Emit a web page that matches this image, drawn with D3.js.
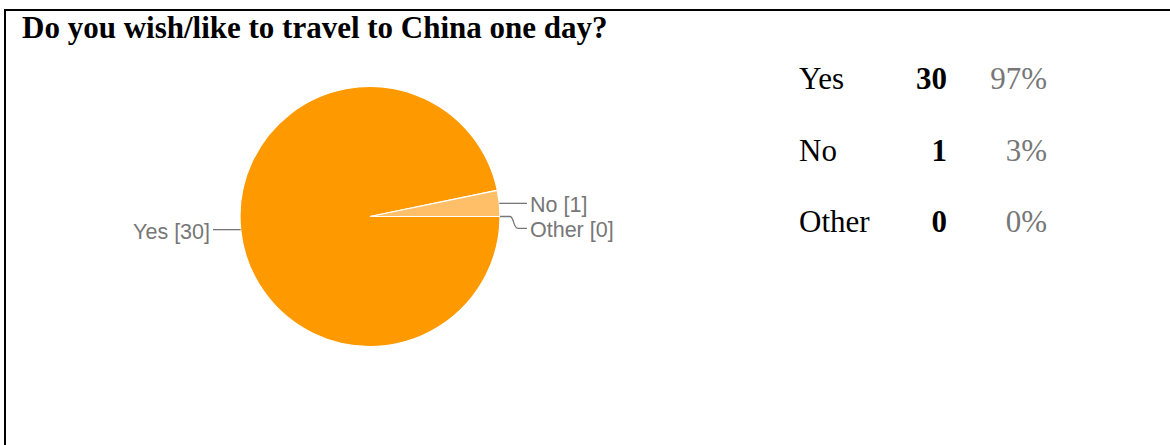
<!DOCTYPE html>
<html><head><meta charset="utf-8">
<script src="https://cdn.jsdelivr.net/npm/d3@7"></script>
<style>
html,body{margin:0;padding:0;background:#fff;}
svg{display:block;}
</style>
</head><body>
<svg id="chart" width="1170" height="445"></svg>
<script>
const title = "Do you wish/like to travel to China one day?";
const categories = ["Yes", "No", "Other"];
const counts = [30, 1, 0];
const percents = ["97%", "3%", "0%"];
const colors = ["#ff9900", "#ffbf69", "#ffd9a6"];

const svg = d3.select("#chart");
const W = 1170, H = 445;

// frame
svg.append("line").attr("x1", 4).attr("x2", W).attr("y1", 10).attr("y2", 10)
  .attr("stroke", "#000").attr("stroke-width", 2);
svg.append("line").attr("x1", 5).attr("x2", 5).attr("y1", 9).attr("y2", H)
  .attr("stroke", "#000").attr("stroke-width", 2);

svg.append("text").attr("x", 22).attr("y", 38)
  .attr("font-family", "'Liberation Serif','Times New Roman',serif")
  .attr("font-weight", "bold").attr("font-size", 31).attr("fill", "#000")
  .text(title);

// pie
const cx = 370, cy = 216.5, R = 130;
const data = categories.map((c, i) => ({cat: c, value: counts[i], color: colors[i]}));
const pie = d3.pie().value(d => d.value).sort(null)
  .startAngle(Math.PI / 2).endAngle(Math.PI / 2 + 2 * Math.PI);
const arcs = pie(data);
const arc = d3.arc().innerRadius(0).outerRadius(R);
const g = svg.append("g").attr("transform", `translate(${cx},${cy})`);
g.selectAll("path.slice").data(arcs).enter().append("path")
  .attr("class", "slice")
  .attr("d", arc).attr("fill", d => d.data.color)
  .attr("stroke", "#fff").attr("stroke-width", 1.2);

// labels
const labelFont = "'Liberation Sans',Arial,sans-serif";
let prevRightY = -Infinity;
arcs.forEach(a => {
  const mid = (a.startAngle + a.endAngle) / 2;
  const ex = Math.sin(mid) * R, ey = -Math.cos(mid) * R;
  const right = ex > 0;
  let ly = ey;
  if (right) {
    if (ly < prevRightY + 25) ly = prevRightY + 25;
    prevRightY = ly;
  }
  const lx = right ? R + 27 : -R - 27;
  let path;
  if (Math.abs(ly - ey) < 0.5) {
    path = `M${ex},${ey}L${lx},${ly}`;
  } else {
    const bx = ex + 10;
    path = `M${ex},${ey}L${bx},${ey}C${bx + 4},${ey} ${bx + 3},${ly} ${bx + 8},${ly}L${lx},${ly}`;
  }
  g.append("path").attr("d", path).attr("fill", "none")
    .attr("stroke", "#777").attr("stroke-width", 1.3);
  g.append("text")
    .attr("x", right ? lx + 3 : lx - 3).attr("y", ly)
    .attr("dy", right ? "0.4em" : "0.45em")
    .attr("text-anchor", right ? "start" : "end")
    .attr("font-family", labelFont).attr("font-size", 21.5)
    .attr("fill", "#777")
    .text(`${a.data.cat} [${a.data.value}]`);
});

// table
const rowY = d3.scalePoint().domain(categories).range([89, 232]);
const serif = "'Liberation Serif','Times New Roman',serif";
const tbl = svg.append("g");
categories.forEach((c, i) => {
  tbl.append("text").attr("x", 799).attr("y", rowY(c))
    .attr("font-family", serif).attr("font-size", 31).attr("fill", "#000").text(c);
  tbl.append("text").attr("x", 947).attr("y", rowY(c)).attr("text-anchor", "end")
    .attr("font-family", serif).attr("font-size", 31).attr("font-weight", "bold")
    .attr("fill", "#000").text(counts[i]);
  tbl.append("text").attr("x", 1047).attr("y", rowY(c)).attr("text-anchor", "end")
    .attr("font-family", serif).attr("font-size", 31).attr("fill", "#777").text(percents[i]);
});
</script>
</body></html>
